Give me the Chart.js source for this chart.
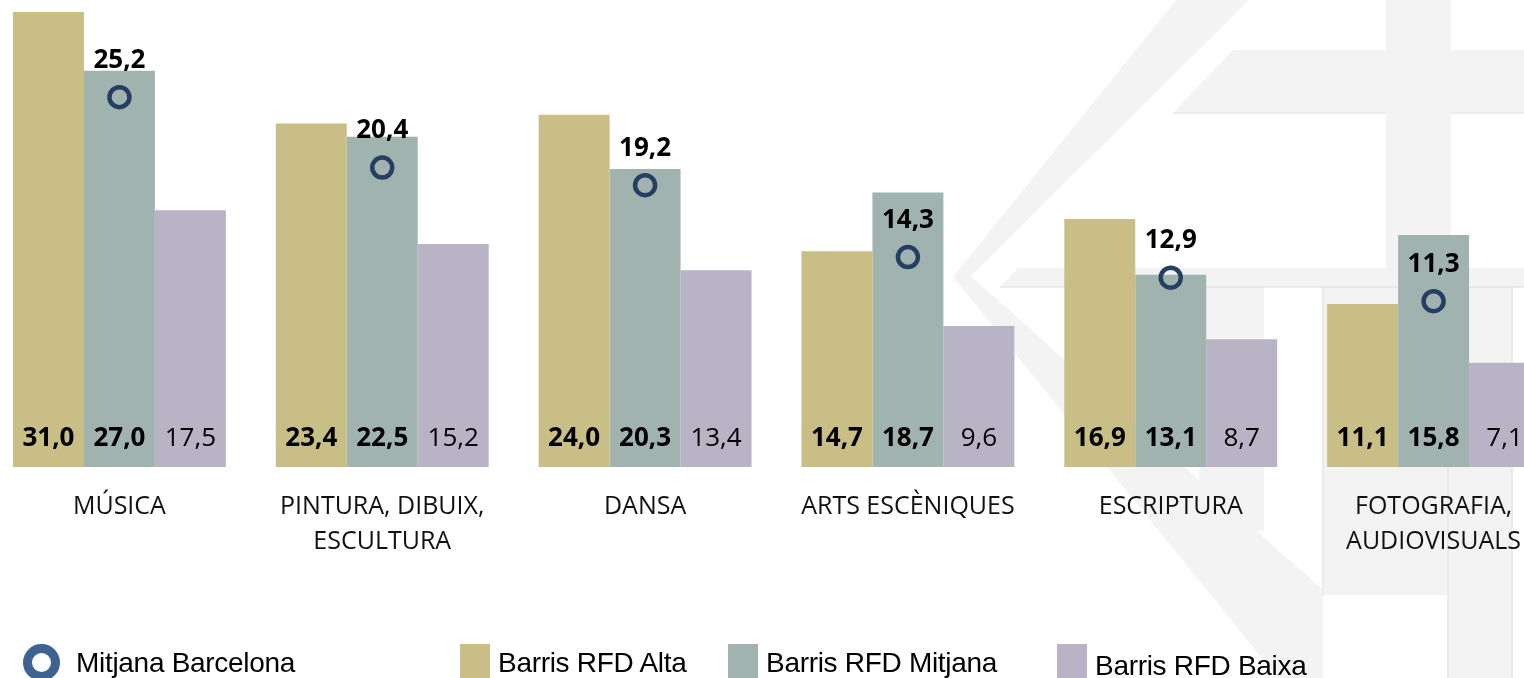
<!DOCTYPE html>
<html lang="ca">
<head>
<meta charset="utf-8">
<title>Activitats artístiques segons RFD del barri</title>
<script src="https://cdn.jsdelivr.net/npm/chart.js@4.4.1/dist/chart.umd.min.js"></script>
<style>
    html, body { margin: 0; padding: 0; background: #fff; }
    body { width: 1524px; height: 678px; position: relative; overflow: hidden; }
    #fons { position: absolute; left: 0; top: 0; }
    #contenidor { position: absolute; left: -12px; top: 0; width: 1577px; height: 678px; }
    #llegenda { position: absolute; left: 0; top: 0; width: 1524px; height: 678px; pointer-events: none; }
    .text-llegenda {
        position: absolute;
        font-family: "Liberation Sans", Arial, sans-serif;
        font-size: 28px;
        line-height: 28px;
        letter-spacing: -0.3px;
        color: #000;
        white-space: nowrap;
    }
    .marca { position: absolute; box-sizing: border-box; }
</style>
</head>
<body>

<!-- marca d'aigua de fons -->
<svg id="fons" width="1524" height="678">
    <g fill="#F3F3F3">
        <polygon points="1176,0 1249,0 970,277 953,277"/>
        <polygon points="953,277 972,277 1199,480 1323,590 1323,678 1278,678"/>
        <polygon points="1233,50 1524,50 1524,113 1173,113"/>
        <rect x="1386" y="0" width="65" height="268"/>
        <polygon points="1018,268 1524,268 1524,287 1000,287"/>
        <rect x="1199" y="287" width="65" height="244"/>
        <rect x="1323" y="287" width="125" height="308"/>
        <rect x="1448" y="287" width="64" height="391"/>
    </g>
    <g stroke="#E6E6E6" stroke-width="1.5">
        <line x1="1173" y1="113" x2="1386" y2="113"/>
        <line x1="1451" y1="113" x2="1524" y2="113"/>
        <line x1="1000" y1="287" x2="1524" y2="287"/>
        <line x1="1323" y1="287" x2="1323" y2="595"/>
        <line x1="1448" y1="287" x2="1448" y2="678"/>
        <line x1="1512" y1="287" x2="1512" y2="678"/>
    </g>
</svg>

<div id="contenidor"><canvas id="grafic"></canvas></div>
<div id="llegenda"></div>

<script>
// Dades
const categories = [
    ['MÚSICA'],
    ['PINTURA, DIBUIX,', 'ESCULTURA'],
    ['DANSA'],
    ['ARTS ESCÈNIQUES'],
    ['ESCRIPTURA'],
    ['FOTOGRAFIA,', 'AUDIOVISUALS']
];
const mitjanaBarcelona = [25.2, 20.4, 19.2, 14.3, 12.9, 11.3];
const rfdAlta = [31.0, 23.4, 24.0, 14.7, 16.9, 11.1];
const rfdMitjana = [27.0, 22.5, 20.3, 18.7, 13.1, 15.8];
const rfdBaixa = [17.5, 15.2, 13.4, 9.6, 8.7, 7.1];

const colors = {
    barcelona: '#243F62',
    barcelonaLlegenda: '#3E6291',
    alta: '#C9BE85',
    mitjana: '#A1B3AF',
    baixa: '#B9B3C6'
};

// pes de la tipografia de les etiquetes de cada sèrie
const pesEtiqueta = ['bold', 'bold', 'bold', 'normal'];

function formatValor(v) {
    return v.toFixed(1).replace('.', ',');
}

// Etiquetes de valor: a la base de les barres i damunt dels cercles
const etiquetes = {
    id: 'etiquetes',
    afterDatasetsDraw(chart) {
        const ctx = chart.ctx;
        const base = chart.scales.y.getPixelForValue(0);
        ctx.save();
        ctx.textAlign = 'center';
        ctx.textBaseline = 'middle';
        ctx.fillStyle = '#000';
        chart.data.datasets.forEach((ds, i) => {
            const meta = chart.getDatasetMeta(i);
            ctx.font = pesEtiqueta[i] + ' 26px "Open Sans"';
            meta.data.forEach((el, j) => {
                const txt = formatValor(ds.data[j]);
                if (ds.type === 'line') {
                    ctx.fillText(txt, el.x, el.y - 37);
                } else {
                    ctx.fillText(txt, el.x, base - 28);
                }
            });
        });
        ctx.restore();
    }
};

const ctx = document.getElementById('grafic').getContext('2d');
const grafic = new Chart(ctx, {
    type: 'bar',
    data: {
        labels: categories,
        datasets: [
            {
                type: 'line',
                label: 'Mitjana Barcelona',
                data: mitjanaBarcelona,
                showLine: false,
                pointStyle: 'circle',
                pointRadius: 10,
                pointHoverRadius: 10,
                pointBorderWidth: 4.5,
                pointBorderColor: colors.barcelona,
                pointBackgroundColor: 'rgba(0,0,0,0)',
                borderColor: colors.barcelona,
                backgroundColor: 'rgba(0,0,0,0)'
            },
            {
                label: 'Barris RFD Alta',
                data: rfdAlta,
                backgroundColor: colors.alta,
                borderWidth: 0
            },
            {
                label: 'Barris RFD Mitjana',
                data: rfdMitjana,
                backgroundColor: colors.mitjana,
                borderWidth: 0
            },
            {
                label: 'Barris RFD Baixa',
                data: rfdBaixa,
                backgroundColor: colors.baixa,
                borderWidth: 0
            }
        ]
    },
    options: {
        responsive: true,
        maintainAspectRatio: false,
        animation: false,
        events: [],
        datasets: {
            bar: {
                barPercentage: 1,
                categoryPercentage: 0.81
            }
        },
        layout: {
            autoPadding: false,
            padding: { top: 12, left: 0, right: 0, bottom: 0 }
        },
        plugins: {
            legend: { display: false },
            tooltip: { enabled: false }
        },
        scales: {
            x: {
                grid: { display: false },
                border: { display: false },
                ticks: {
                    autoSkip: false,
                    maxRotation: 0,
                    padding: 14,
                    color: '#111',
                    font: { family: '"Open Sans"', size: 25, lineHeight: 1.42 }
                },
                afterFit(scale) {
                    // la base de les barres queda a y = 467
                    scale.height = 678 - 467;
                }
            },
            y: {
                display: false,
                min: 0,
                max: 31
            }
        }
    },
    plugins: [etiquetes]
});

// Llegenda en HTML
const llegenda = document.getElementById('llegenda');
const itemsLlegenda = [
    { text: 'Mitjana Barcelona', tipus: 'cercle', color: colors.barcelonaLlegenda, marca: 23, text_x: 76, dy: 0 },
    { text: 'Barris RFD Alta', tipus: 'quadrat', color: colors.alta, marca: 460, text_x: 498, dy: 0 },
    { text: 'Barris RFD Mitjana', tipus: 'quadrat', color: colors.mitjana, marca: 728, text_x: 766, dy: 0 },
    { text: 'Barris RFD Baixa', tipus: 'quadrat', color: colors.baixa, marca: 1057, text_x: 1095, dy: 3 }
];

itemsLlegenda.forEach(item => {
    const marca = document.createElement('div');
    marca.className = 'marca';
    marca.style.left = item.marca + 'px';
    marca.style.top = '644px';
    if (item.tipus === 'cercle') {
        marca.style.width = '37px';
        marca.style.height = '37px';
        marca.style.border = '9px solid ' + item.color;
        marca.style.borderRadius = '50%';
    } else {
        marca.style.width = '30px';
        marca.style.height = '34px';
        marca.style.background = item.color;
    }
    llegenda.appendChild(marca);

    const text = document.createElement('div');
    text.className = 'text-llegenda';
    text.style.left = item.text_x + 'px';
    text.style.top = (649 + item.dy) + 'px';
    text.textContent = item.text;
    llegenda.appendChild(text);
});
</script>
</body>
</html>
